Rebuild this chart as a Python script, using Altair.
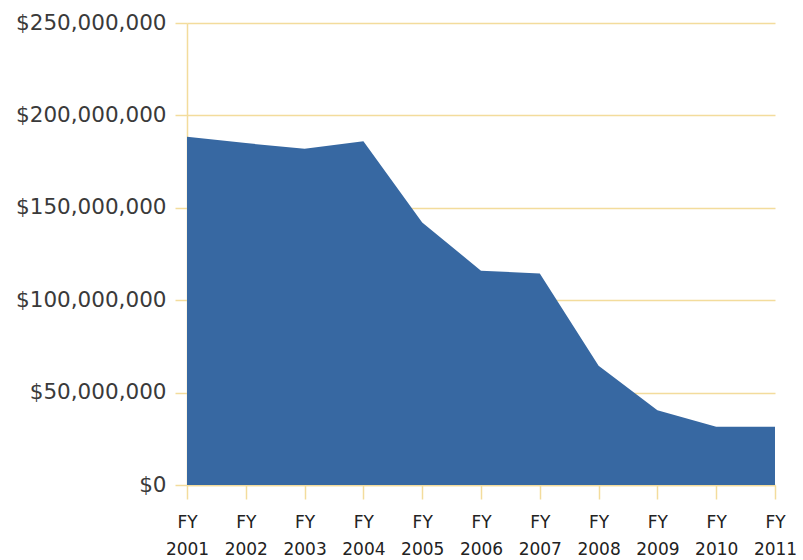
import altair as alt
import pandas as pd

years = [2001, 2002, 2003, 2004, 2005, 2006, 2007, 2008, 2009, 2010, 2011]
funding = [188_500_000, 185_000_000, 182_000_000, 186_000_000, 142_000_000,
           116_000_000, 114_500_000, 64_500_000, 40_500_000, 31_500_000, 31_500_000]
y_ticks = [0, 50_000_000, 100_000_000, 150_000_000, 200_000_000, 250_000_000]

df = pd.DataFrame({"year": years, "funding": funding})

grid_color = "#f3dc9c"
font = "DejaVu Sans"

chart = alt.Chart(df).mark_area(color="#3768a2", opacity=1).encode(
    x=alt.X("year:Q",
            scale=alt.Scale(domain=[2001, 2011], nice=False, zero=False),
            axis=alt.Axis(values=years, title=None, grid=False,
                          labelExpr="['FY', datum.label]", format="d",
                          labelFont=font, labelFontSize=17, labelColor="#222222",
                          labelLineHeight=27, labelPadding=15,
                          tickColor=grid_color, tickSize=14, tickWidth=1.5,
                          domainColor=grid_color, domainWidth=1.5,
                          labelFlush=False)),
    y=alt.Y("funding:Q",
            scale=alt.Scale(domain=[0, 250_000_000], nice=False),
            axis=alt.Axis(values=y_ticks, title=None, format="$,d",
                          grid=True, gridColor=grid_color, gridWidth=1.5,
                          labelFont=font, labelFontSize=21.5, labelColor="#3a3a3a",
                          labelPadding=9,
                          tickColor=grid_color, tickSize=12, tickWidth=1.5,
                          domainColor=grid_color, domainWidth=1.5)),
).properties(
    width=588, height=462,
    padding={"left": 187, "top": 23, "right": 28, "bottom": 75},
    autosize="none",
    background="white",
).configure_view(stroke=None)

chart.save("out.html", embed_options={"renderer": "svg", "actions": False})
